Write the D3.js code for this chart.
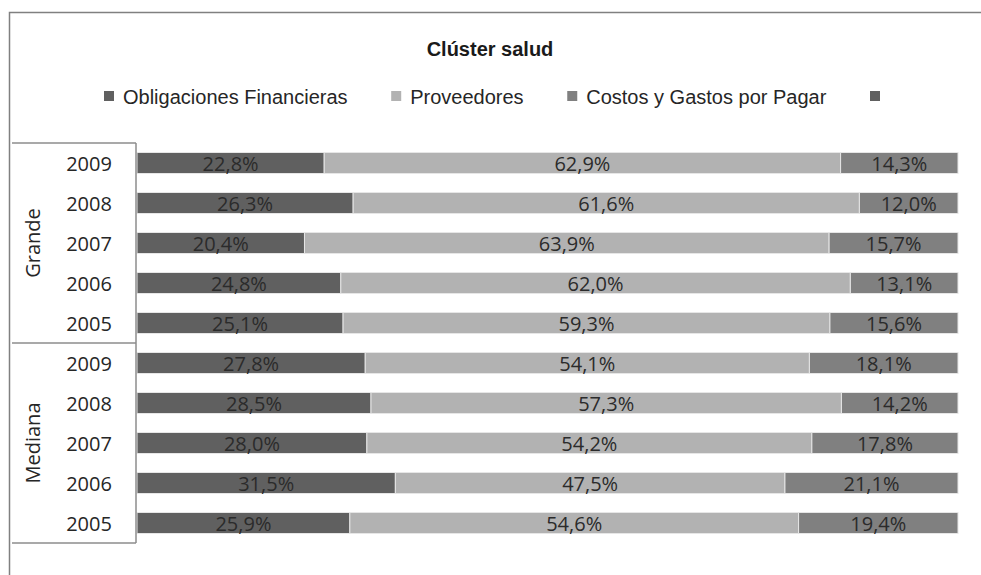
<!DOCTYPE html>
<html>
<head>
<meta charset="utf-8">
<script src="https://cdn.jsdelivr.net/npm/d3@7"></script>
<style>
  body { margin: 0; background: #fff; }
  text { font-family: "Open Sans", "Noto Sans", sans-serif; }
</style>
</head>
<body>
<div id="chart"></div>
<script>
// data
var years = ["2009", "2008", "2007", "2006", "2005"];
var groups = ["Grande", "Mediana"];
var seriesNames = ["Obligaciones Financieras", "Proveedores", "Costos y Gastos por Pagar", ""];
var obligaciones = [22.8, 26.3, 20.4, 24.8, 25.1, 27.8, 28.5, 28.0, 31.5, 25.9];
var proveedores  = [62.9, 61.6, 63.9, 62.0, 59.3, 54.1, 57.3, 54.2, 47.5, 54.6];
var costos       = [14.3, 12.0, 15.7, 13.1, 15.6, 18.1, 14.2, 17.8, 21.1, 19.4];
var colors = ["#606060", "#b2b2b2", "#808080", "#606060"];

var W = 981, H = 575;

var svg = d3.select("#chart")
  .append("svg")
    .attr("width", W)
    .attr("height", H);

// outer chart frame (only top and left show in the picture)
svg.append("path")
  .attr("d", "M9.5," + H + "V12.5H" + W)
  .attr("fill", "none")
  .attr("stroke", "#808080")
  .attr("stroke-width", 1.5);

// title
svg.append("text")
  .attr("x", 490)
  .attr("y", 56)
  .attr("text-anchor", "middle")
  .style("font-family", "'Liberation Sans', Arial, sans-serif")
  .style("font-weight", "bold")
  .style("font-size", "20px")
  .attr("fill", "#1a1a1a")
  .text("Clúster salud");

// legend, items spaced evenly between first and last marker
var legendStart = 104, legendLast = 870;
var legend = svg.append("g").selectAll("g")
  .data(seriesNames)
  .enter().append("g");
legend.append("rect")
  .attr("y", 91)
  .attr("width", 10).attr("height", 10)
  .attr("fill", function(d, i) { return colors[i]; });
legend.append("text")
  .attr("x", 19)
  .attr("y", 104)
  .style("font-family", "'Liberation Sans Narrow', 'Arial Narrow', 'Liberation Sans', sans-serif")
  .style("font-size", "20px")
  .attr("fill", "#262626")
  .text(function(d) { return d; });

var itemW = [];
legend.each(function() { itemW.push(19 + this.querySelector("text").getComputedTextLength()); });
var gap = (legendLast - legendStart - d3.sum(itemW.slice(0, 3))) / 3;
var pos = legendStart;
legend.attr("transform", function(d, i) {
  var p = pos;
  pos += itemW[i] + gap;
  return "translate(" + p + ",0)";
});

// rows
var rows = [];
groups.forEach(function(g, gi) {
  years.forEach(function(y, yi) {
    var k = gi * years.length + yi;
    rows.push({ key: g + "|" + y, group: g, year: y,
      obl: obligaciones[k], prov: proveedores[k], cost: costos[k] });
  });
});

var keys = ["obl", "prov", "cost"];
var stacked = d3.stack().keys(keys).offset(d3.stackOffsetExpand)(rows);

var x = d3.scaleLinear().domain([0, 1]).range([137, 958]);
var y = d3.scaleBand()
  .domain(rows.map(function(d) { return d.key; }))
  .range([143, 543])
  .paddingInner(0.475)
  .paddingOuter(0.2375);

var layers = svg.append("g").selectAll("g")
  .data(stacked)
  .enter().append("g")
    .attr("fill", function(d, i) { return colors[i]; });

layers.selectAll("rect")
  .data(function(d) { return d; })
  .enter().append("rect")
    .attr("x", function(d) { return x(d[0]); })
    .attr("y", function(d) { return y(d.data.key); })
    .attr("width", function(d) { return x(d[1]) - x(d[0]); })
    .attr("height", y.bandwidth())
    .attr("stroke", "#e6e6e6")
    .attr("stroke-width", 1);

// data labels
layers.selectAll("text")
  .data(function(d) { return d.map(function(s) { s.k = d.key; return s; }); })
  .enter().append("text")
    .attr("x", function(d) { return (x(d[0]) + x(d[1])) / 2; })
    .attr("y", function(d) { return y(d.data.key) + y.bandwidth() / 2 + 7.5; })
    .attr("text-anchor", "middle")
    .style("font-size", "20px")
    .attr("fill", "#2b2b2b")
    .text(function(d) { return d3.format(".1f")(d.data[d.k]).replace(".", ",") + "%"; });

// multi-level category axis
var axis = svg.append("g")
  .attr("fill", "none")
  .attr("stroke", "#8c8c8c")
  .attr("stroke-width", 1.5);
axis.append("line")
  .attr("x1", 136).attr("x2", 136)
  .attr("y1", y.range()[0]).attr("y2", y.range()[1]);
var groupEdges = [rows[0].key, rows[years.length].key];
groupEdges.forEach(function(k) {
  var yy = y(k) - y.step() * y.paddingInner() / 2;
  axis.append("line")
    .attr("x1", 12).attr("x2", 136)
    .attr("y1", yy).attr("y2", yy);
});
axis.append("line")
  .attr("x1", 12).attr("x2", 136)
  .attr("y1", y.range()[1]).attr("y2", y.range()[1]);

svg.append("g").selectAll("text")
  .data(rows)
  .enter().append("text")
    .attr("x", 89)
    .attr("y", function(d) { return y(d.key) + y.bandwidth() / 2 + 7.5; })
    .attr("text-anchor", "middle")
    .style("font-size", "20px")
    .attr("fill", "#262626")
    .text(function(d) { return d.year; });

svg.append("g").selectAll("text")
  .data(groups)
  .enter().append("text")
    .attr("transform", function(g) {
      var first = y(g + "|" + years[0]), last = y(g + "|" + years[years.length - 1]);
      var cy = (first + last + y.bandwidth()) / 2;
      return "translate(40," + cy + ") rotate(-90)";
    })
    .attr("text-anchor", "middle")
    .style("font-size", "20px")
    .attr("fill", "#262626")
    .text(function(g) { return g; });
</script>
</body>
</html>
